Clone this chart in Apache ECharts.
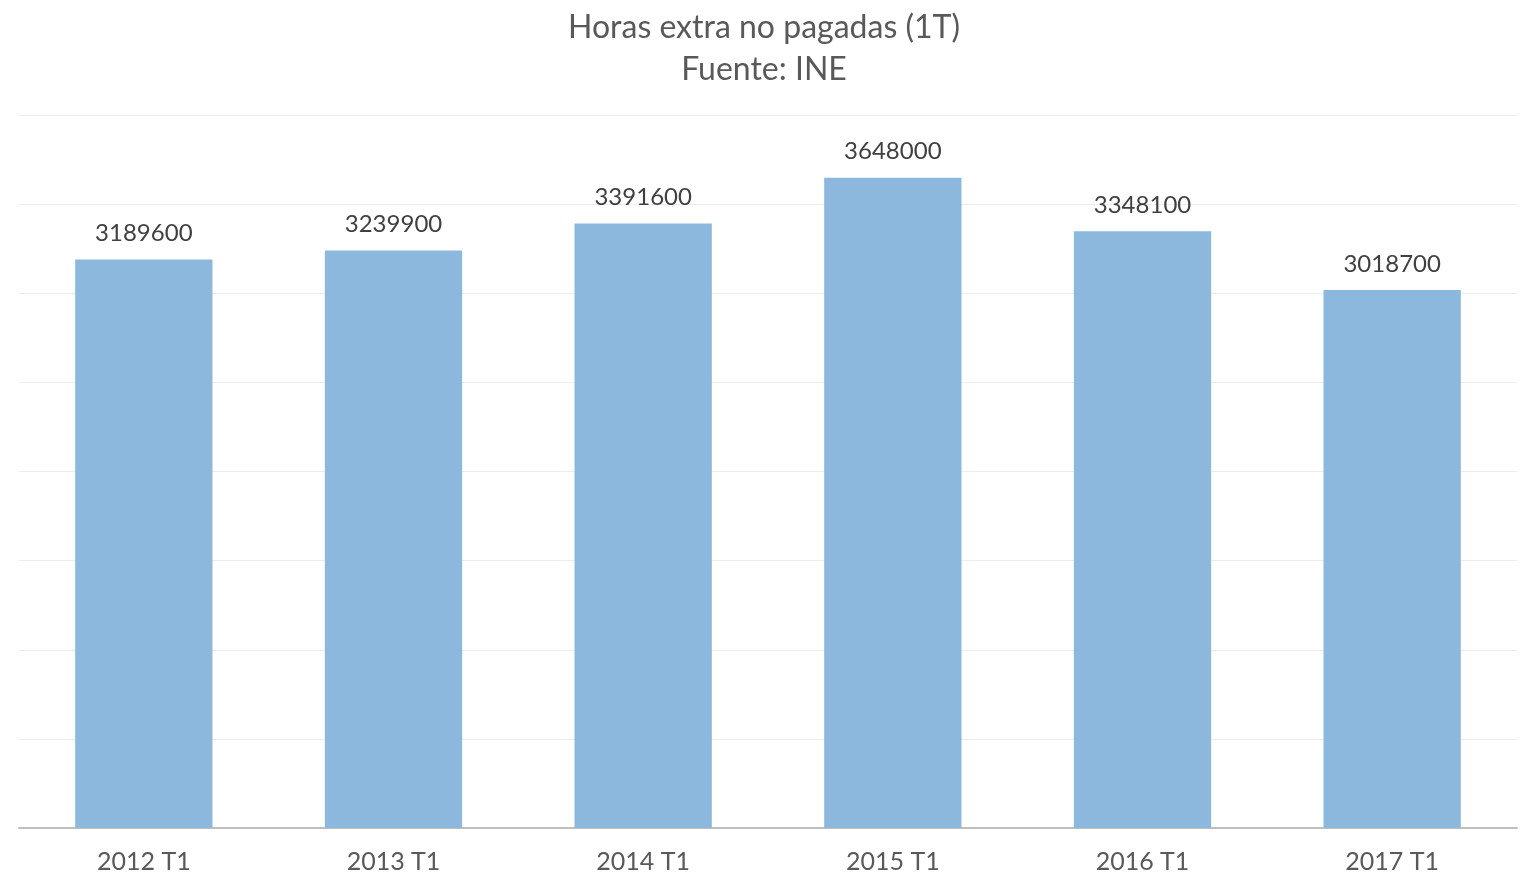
<!DOCTYPE html>
<html>
<head>
<meta charset="utf-8">
<script src="https://cdn.jsdelivr.net/npm/echarts@6/dist/echarts.min.js"></script>
<style>html,body{margin:0;padding:0;background:#fff}#c{width:1528px;height:886px}</style>
</head>
<body>
<div id="c"></div>
<script>
const categories = ['2012 T1','2013 T1','2014 T1','2015 T1','2016 T1','2017 T1'];
const values = [3189600, 3239900, 3391600, 3648000, 3348100, 3018700];
const yMin = 0, yMax = 4000000, yInterval = 500000;

const chart = echarts.init(document.getElementById('c'), null, {renderer:'canvas'});
chart.setOption({
  animation: false,
  backgroundColor: '#ffffff',
  textStyle: {fontFamily: 'Lato'},
  title: {
    text: 'Horas extra no pagadas (1T)\nFuente: INE',
    left: 'center', top: 2,
    textStyle: {fontFamily: 'Lato', fontSize: 32, fontWeight: 'normal', color: '#595959', lineHeight: 42}
  },
  grid: {left: 19, right: 11, top: 115, bottom: 58, containLabel: false},
  xAxis: {
    type: 'category', data: categories,
    axisLine: {show: true, lineStyle: {color: '#bfbfbf', width: 2}},
    axisTick: {show: false},
    axisLabel: {fontFamily: 'Lato', fontSize: 25, color: '#595959', margin: 21}
  },
  yAxis: {
    type: 'value', min: yMin, max: yMax, interval: yInterval,
    axisLabel: {show: false}, axisLine: {show: false}, axisTick: {show: false},
    splitLine: {lineStyle: {color: '#ececec', width: 1}}
  },
  series: [{
    type: 'bar', data: values, barWidth: '55%',
    itemStyle: {color: '#8db8de'},
    label: {show: true, position: 'top', distance: 14, fontFamily: 'Lato', fontSize: 24, color: '#404040'}
  }]
});
</script>
</body>
</html>
